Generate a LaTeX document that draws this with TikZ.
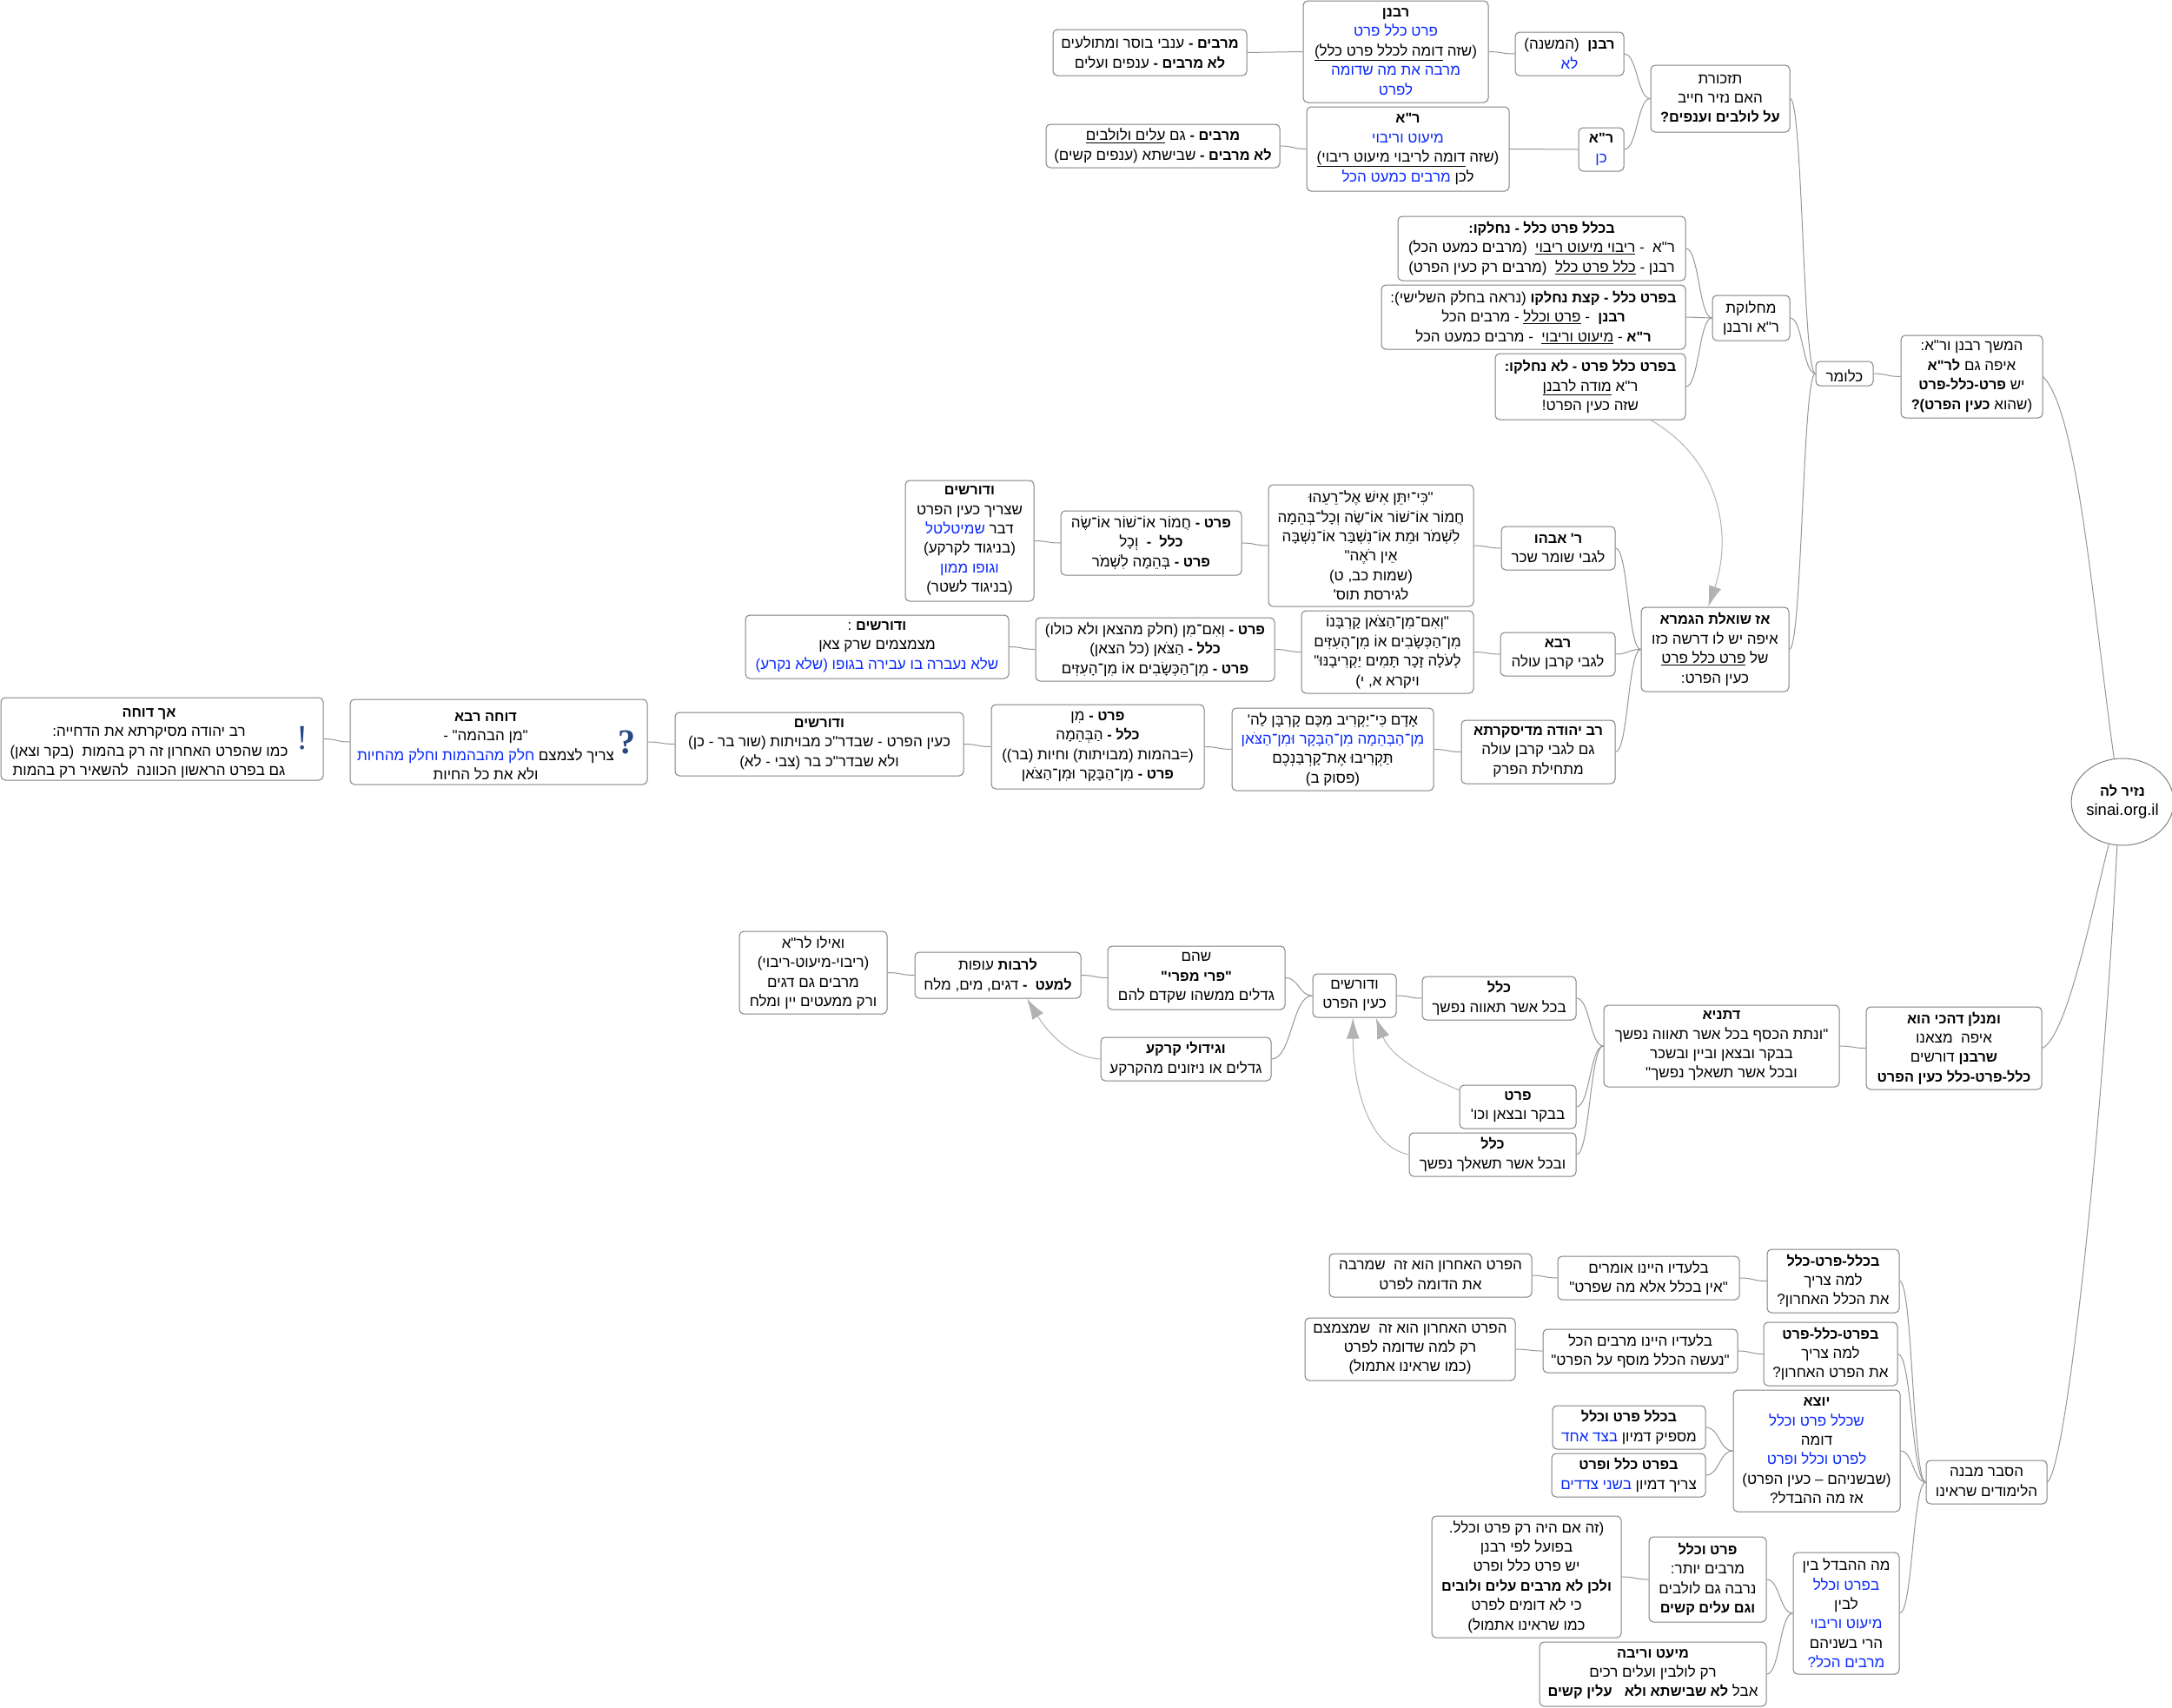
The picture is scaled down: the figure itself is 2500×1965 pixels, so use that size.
\documentclass[tikz,border=0pt]{standalone}
\usepackage{fontspec}
\usetikzlibrary{arrows.meta,calc,shapes.geometric}
\TeXXeTstate=1
\newfontfamily\hebfont[Script=Hebrew,BoldFeatures={Scale=0.96}]{Liberation Sans}
\definecolor{edgegray}{RGB}{128,128,128}
\definecolor{linkgray}{RGB}{150,150,150}
\definecolor{tipgray}{RGB}{178,178,178}
\definecolor{hebblue}{RGB}{10,40,250}
\definecolor{marknavy}{RGB}{40,70,130}
\newcommand{\heb}[1]{\beginR#1\endR}
\newcommand{\blu}[1]{\textcolor{hebblue}{\beginR#1\endR}}
\newcommand{\unl}[1]{$\underline{\hbox{\beginR#1\endR}}$}
\tikzset{
  box/.style 2 args={draw=edgegray,line width=1pt,rounded corners=5pt,inner sep=0pt,
    minimum width=#1pt,minimum height=#2pt,align=center,text=black,
    font=\hebfont\fontsize{17}{22.4}\selectfont,
    execute at begin node={\rule{0pt}{20pt}}},
  link/.style={draw=linkgray,line width=1pt,
    to path={let \p1=(\tikztostart),\p2=(\tikztotarget) in
      .. controls ({0.5*\x1+0.5*\x2},\y1) and ({0.5*\x1+0.5*\x2},\y2) .. (\tikztotarget)}},
  jump/.style={draw=tipgray,line width=1pt,-{Latex[length=24pt,width=15pt,color=tipgray]}},
  iconmark/.style={text=marknavy,inner sep=0pt,font=\fontspec{Liberation Serif}\fontsize{40}{40}\selectfont}
}
\begin{document}
\begin{tikzpicture}[x=1pt,y=-1pt]
  \useasboundingbox (0,0) rectangle (2500,1965);

  \node [box={223}{53}] (merabimA) at (1323.5,60.5) {\heb{\textbf{מרבים -} ענבי בוסר ומתולעים}\\\heb{\textbf{לא מרבים -} ענפים ועלים}};
  \node [box={213}{117}] (rabananDet) at (1606.5,59.5) {\heb{\textbf{רבנן}}\\\blu{פרט כלל פרט}\\\heb{(שזה \unl{דומה לכלל פרט כלל)}}\\\blu{מרבה את מה שדומה}\\\blu{לפרט}};
  \node [box={125}{50}] (rabanan) at (1806.5,62) {\heb{\textbf{רבנן}~~(המשנה)}\\\blu{לא}};
  \node [box={160}{77}] (tizkoret) at (1980,113.5) {\heb{תזכורת}\\\heb{האם נזיר חייב}\\\heb{\textbf{על לולבים וענפים?}}};
  \node [box={269}{50}] (merabimB) at (1338.5,168) {\heb{\textbf{מרבים -} גם \unl{עלים ולולבים}}\\\heb{\textbf{לא מרבים -} שבישתא (ענפים קשים)}};
  \node [box={233}{97}] (raDet) at (1620.5,171.5) {\heb{\textbf{ר"א}}\\\blu{מיעוט וריבוי}\\\heb{(שזה \unl{דומה לריבוי מיעוט ריבוי)}}\\\blu{מרבים כמעט הכל} \heb{לכן}};
  \node [box={52}{50}] (ra) at (1843,172) {\heb{\textbf{ר"א}}\\\blu{כן}};

  \node [box={331}{74}] (bichlal) at (1774.5,286) {\heb{\textbf{בכלל פרט כלל - נחלקו:}}\\\heb{ר"א~~- \unl{ריבוי מיעוט ריבוי}~~(מרבים כמעט הכל)}\\\heb{רבנן - \unl{כלל פרט כלל}~~(מרבים רק כעין הפרט)}};
  \node [box={350}{74}] (bifrat) at (1765,365) {\heb{\textbf{בפרט כלל - קצת נחלקו} (נראה בחלק השלישי):}\\\heb{\textbf{רבנן}~~- \unl{פרט וכלל} - מרבים הכל}\\\heb{\textbf{ר"א} - \unl{מיעוט וריבוי}~~- מרבים כמעט הכל}};
  \node [box={219}{76}] (biprat) at (1830.5,445) {\heb{\textbf{בפרט כלל פרט - לא נחלקו:}}\\\heb{ר"א \unl{מודה לרבנן}}\\\heb{שזה כעין הפרט!}};
  \node [box={89}{52}] (machloket) at (2015.5,366) {\heb{מחלוקת}\\\heb{ר"א ורבנן}};
  \node [box={66}{28}] (klomar) at (2123,430) {\heb{כלומר}};
  \node [box={163}{95}] (hemshech) at (2269.5,433.5) {\heb{המשך רבנן ור"א:}\\\heb{איפה גם \textbf{לר"א}}\\\heb{יש \textbf{פרט-כלל-פרט}}\\\heb{(שהוא \textbf{כעין הפרט)?}}};
  \node [box={170}{97}] (az) at (1974,747.5) {\heb{\textbf{אז שואלת הגמרא}}\\\heb{איפה יש לו דרשה כזו}\\\heb{של \unl{פרט כלל פרט}}\\\heb{כעין הפרט:}};

  \node [box={148}{139}] (doreshimA) at (1116,622.5) {\heb{\textbf{ודורשים}}\\\heb{שצריך כעין הפרט}\\\blu{שמיטלטל} \heb{דבר}\\\heb{(בניגוד לקרקע)}\\\blu{וגופו ממון}\\\heb{(בניגוד לשטר)}};
  \node [box={208}{74}] (pratHamor) at (1325,625) {\heb{\textbf{פרט -} חֲמוֹר אוֹ־שׁוֹר אוֹ־שֶׂה}\\\heb{\textbf{כלל~~-}~~וְכָל}\\\heb{\textbf{פרט -} בְּהֵמָה לִשְׁמֹר}};
  \node [box={236}{140}] (kiYiten) at (1578,628) {\heb{"כִּי־יִתֵּן אִישׁ אֶל־רֵעֵהוּ}\\\heb{חֲמוֹר אוֹ־שׁוֹר אוֹ־שֶׂה וְכָל־בְּהֵמָה}\\\heb{לִשְׁמֹר וּמֵת אוֹ־נִשְׁבַּר אוֹ־נִשְׁבָּה}\\\heb{אֵין רֹאֶה"}\\\heb{(שמות כב, ט)}\\\heb{לגירסת תוס'}};
  \node [box={131}{50}] (abahu) at (1793.5,631) {\heb{\textbf{ר' אבהו}}\\\heb{לגבי שומר שכר}};

  \node [box={303}{73}] (doreshimB) at (1009.5,744.5) {\heb{\textbf{ודורשים} :}\\\heb{מצמצמים שרק צאן}\\\blu{שלא נעברה בו עבירה בגופו (שלא נקרע)}};
  \node [box={275}{73}] (pratIm) at (1329.5,747.5) {\heb{\textbf{פרט -} וְאִם־מִן (חלק מהצאן ולא כולו)}\\\heb{\textbf{כלל -} הַצֹּאן (כל הצאן)}\\\heb{\textbf{פרט -} מִן־הַכְּשָׂבִים אוֹ מִן־הָעִזִּים}};
  \node [box={198}{95}] (imMin) at (1597,750.5) {\heb{"וְאִם־מִן־הַצֹּאן קָרְבָּנוֹ}\\\heb{מִן־הַכְּשָׂבִים אוֹ מִן־הָעִזִּים}\\\heb{לְעֹלָה זָכָר תָּמִים יַקְרִיבֶנּוּ"}\\\heb{ויקרא א, י)}};
  \node [box={132}{50}] (rava) at (1793,753) {\heb{\textbf{רבא}}\\\heb{לגבי קרבן עולה}};

  \node [box={371}{95}] (achDoche) at (186.5,850.5) {\parbox[c]{335pt}{\centering\rule{0pt}{20pt}\heb{\textbf{אך דוחה}}\\\heb{רב יהודה מסיקרתא את הדחייה:}\\\heb{כמו שהפרט האחרון זה רק בהמות~~(בקר וצאן)}\\\heb{גם בפרט הראשון הכוונה~~להשאיר רק בהמות}}\hspace{30pt}};
  \node [iconmark] (markA) at (348,850) {!};
  \node [box={342}{98}] (docheRava) at (574,854) {\parbox[c]{305pt}{\centering\rule{0pt}{20pt}\heb{\textbf{דוחה רבא}}\\\heb{"מן הבהמה" -}\\\blu{חלק מהבהמות וחלק מהחיות} \heb{צריך לצמצם}\\\heb{ולא את כל החיות}}\hspace{30pt}};
  \node [iconmark,font=\fontspec{Liberation Serif}\bfseries\fontsize{40}{40}\selectfont] (markB) at (721,855) {?};
  \node [box={332}{73}] (doreshimC) at (943,856.5) {\heb{\textbf{ודורשים}}\\\heb{כעין הפרט - שבדר"כ מבויתות (שור בר - כן)}\\\heb{ולא שבדר"כ בר (צבי - לא)}};
  \node [box={245}{97}] (pratMin) at (1263.5,859.5) {\heb{\textbf{פרט -} מִן}\\\heb{\textbf{כלל -} הַבְּהֵמָה}\\\heb{(=בהמות (מבויתות) וחיות (בר))}\\\heb{\textbf{פרט -} מִן־הַבָּקָר וּמִן־הַצֹּאן}};
  \node [box={232}{95}] (adam) at (1534,862.5) {\heb{אָדָם כִּי־יַקְרִיב מִכֶּם קָרְבָּן לַה'}\\\blu{מִן־הַבְּהֵמָה מִן־הַבָּקָר וּמִן־הַצֹּאן}\\\heb{תַּקְרִיבוּ אֶת־קָרְבַּנְכֶם}\\\heb{(פסוק ב)}};
  \node [box={177}{73}] (ravYehuda) at (1770.5,865.5) {\heb{\textbf{רב יהודה מדיסקרתא}}\\\heb{גם לגבי קרבן עולה}\\\heb{מתחילת הפרק}};

  \node [ellipse,draw=edgegray,line width=1pt,inner sep=0pt,minimum width=112pt,minimum height=100pt,align=center,font=\hebfont\fontsize{17}{22.4}\selectfont,execute at begin node={\rule{0pt}{20pt}}] (root) at (2443,923) {\heb{\textbf{נזיר לה}}\\{\fontsize{18.5}{22.4}\selectfont sinai.org.il}};

  \node [box={170}{95}] (veilu) at (936,1119.5) {\heb{ואילו לר"א}\\\heb{(ריבוי-מיעוט-ריבוי)}\\\heb{מרבים גם דגים}\\\heb{ורק ממעטים יין ומלח}};
  \node [box={191}{53}] (lerabot) at (1148.5,1122.5) {\heb{\textbf{לרבות} עופות}\\\heb{\textbf{למעט~~-} דגים, מים, מלח}};
  \node [box={204}{73}] (shehem) at (1377,1125.5) {\heb{שהם}\\\heb{\textbf{"פרי מפרי"}}\\\heb{גדלים ממשהו שקדם להם}};
  \node [box={196}{50}] (gidulei) at (1365,1219) {\heb{\textbf{וגידולי קרקע}}\\\heb{גדלים או ניזונים מהקרקע}};
  \node [box={96}{50}] (vedorshim) at (1559,1146) {\heb{ודורשים}\\\heb{כעין הפרט}};
  \node [box={177}{50}] (kelalA) at (1725.5,1149) {\heb{\textbf{כלל}}\\\heb{בכל אשר תאווה נפשך}};
  \node [box={134}{50}] (pratP) at (1747,1274) {\heb{\textbf{פרט}}\\\heb{בבקר ובצאן וכו'}};
  \node [box={192}{50}] (kelalB) at (1718,1329) {\heb{\textbf{כלל}}\\\heb{ובכל אשר תשאלך נפשך}};
  \node [box={271}{94}] (dtanya) at (1981.5,1204) {\heb{\textbf{דתניא}}\\\heb{"ונתת הכסף בכל אשר תאווה נפשך}\\\heb{בבקר ובצאן וביין ובשכר}\\\heb{ובכל אשר תשאלך נפשך"}};
  \node [box={202}{95}] (umnalan) at (2249,1206.5) {\heb{\textbf{ומנלן דהכי הוא}}\\\heb{איפה~~מצאנו}\\\heb{\textbf{שרבנן} דורשים}\\\heb{\textbf{כלל-פרט-כלל כעין הפרט}}};

  \node [box={233}{50}] (hapA) at (1646.5,1468) {\heb{הפרט האחרון הוא זה~~שמרבה}\\\heb{את הדומה לפרט}};
  \node [box={209}{50}] (bilA) at (1897.5,1471) {\heb{בלעדיו היינו אומרים}\\\heb{"אין בכלל אלא מה שפרט"}};
  \node [box={152}{73}] (bchlal) at (2110,1474.5) {\heb{\textbf{בכלל-פרט-כלל}}\\\heb{למה צריך}\\\heb{את הכלל האחרון?}};
  \node [box={242}{72}] (hapB) at (1623,1553) {\heb{הפרט האחרון הוא זה~~שמצמצם}\\\heb{רק למה שדומה לפרט}\\\heb{(כמו שראינו אתמול)}};
  \node [box={224}{50}] (bilB) at (1888,1555) {\heb{בלעדיו היינו מרבים הכל}\\\heb{"נעשה הכלל מוסף על הפרט"}};
  \node [box={154}{73}] (bprat) at (2107,1558.5) {\heb{\textbf{בפרט-כלל-פרט}}\\\heb{למה צריך}\\\heb{את הפרט האחרון?}};
  \node [box={192}{140}] (yotzei) at (2091,1670) {\heb{\textbf{יוצא}}\\\blu{שכלל פרט וכלל}\\\heb{דומה}\\\blu{לפרט וכלל ופרט}\\\heb{(שבשניהם – כעין הפרט)}\\\heb{אז מה ההבדל?}};
  \node [box={176}{50}] (bichlalU) at (1875,1643) {\heb{\textbf{בכלל פרט וכלל}}\\\blu{בצד אחד} \heb{מספיק דמיון}};
  \node [box={177}{50}] (bifratU) at (1874.5,1698) {\heb{\textbf{בפרט כלל ופרט}}\\\blu{בשני צדדים} \heb{צריך דמיון}};
  \node [box={139}{50}] (hesber) at (2286.5,1706) {\heb{הסבר מבנה}\\\heb{הלימודים שראינו}};
  \node [box={218}{140}] (zeh) at (1757,1815) {\heb{(זה אם היה רק פרט וכלל.}\\\heb{בפועל לפי רבנן}\\\heb{יש פרט כלל ופרט}\\\heb{\textbf{ולכן לא מרבים עלים ולובים}}\\\heb{כי לא דומים לפרט}\\\heb{כמו שראינו אתמול)}};
  \node [box={135}{98}] (pratUkelal) at (1965.5,1818) {\heb{\textbf{פרט וכלל}}\\\heb{מרבים יותר:}\\\heb{נרבה גם לולבים}\\\heb{\textbf{וגם עלים קשים}}};
  \node [box={261}{74}] (miut) at (1902.5,1927) {\heb{\textbf{מיעט וריבה}}\\\heb{רק לולבין ועלים רכים}\\\heb{אבל \textbf{לא שבישתא ולא}~~~\textbf{עלין קשים}}};
  \node [box={122}{140}] (hevdel) at (2125,1857) {\heb{מה ההבדל בין}\\\blu{בפרט וכלל}\\\heb{לבין}\\\blu{מיעוט וריבוי}\\\heb{הרי בשניהם}\\\blu{מרבים הכל?}};

  \draw [link] (merabimA.east) to (rabananDet.west);
  \draw [link] (rabananDet.east) to (rabanan.west);
  \draw [link] (rabanan.east) to (tizkoret.west);
  \draw [link] (merabimB.east) to (raDet.west);
  \draw [link] (raDet.east) to (ra.west);
  \draw [link] (ra.east) to (tizkoret.west);
  \draw [link] (bichlal.east) to (machloket.west);
  \draw [link] (bifrat.east) to (machloket.west);
  \draw [link] (biprat.east) to (machloket.west);
  \draw [link] (tizkoret.east) to (klomar.west);
  \draw [link] (machloket.east) to (klomar.west);
  \draw [link] (az.east) to (klomar.west);
  \draw [link] (klomar.east) to (hemshech.west);
  \draw [link] (doreshimA.east) to (pratHamor.west);
  \draw [link] (pratHamor.east) to (kiYiten.west);
  \draw [link] (kiYiten.east) to (abahu.west);
  \draw [link] (abahu.east) to (az.west);
  \draw [link] (doreshimB.east) to (pratIm.west);
  \draw [link] (pratIm.east) to (imMin.west);
  \draw [link] (imMin.east) to (rava.west);
  \draw [link] (rava.east) to (az.west);
  \draw [link] (achDoche.east) to (docheRava.west);
  \draw [link] (docheRava.east) to (doreshimC.west);
  \draw [link] (doreshimC.east) to (pratMin.west);
  \draw [link] (pratMin.east) to (adam.west);
  \draw [link] (adam.east) to (ravYehuda.west);
  \draw [link] (ravYehuda.east) to (az.west);
  \draw [link] (veilu.east) to (lerabot.west);
  \draw [link] (lerabot.east) to (shehem.west);
  \draw [link] (shehem.east) to (vedorshim.west);
  \draw [link] (gidulei.east) to (vedorshim.west);
  \draw [link] (vedorshim.east) to (kelalA.west);
  \draw [link] (kelalA.east) to (dtanya.west);
  \draw [link] (pratP.east) to (dtanya.west);
  \draw [link] (kelalB.east) to (dtanya.west);
  \draw [link] (dtanya.east) to (umnalan.west);
  \draw [link] (hapA.east) to (bilA.west);
  \draw [link] (bilA.east) to (bchlal.west);
  \draw [link] (hapB.east) to (bilB.west);
  \draw [link] (bilB.east) to (bprat.west);
  \draw [link] (bichlalU.east) to (yotzei.west);
  \draw [link] (bifratU.east) to (yotzei.west);
  \draw [link] (zeh.east) to (pratUkelal.west);
  \draw [link] (pratUkelal.east) to (hevdel.west);
  \draw [link] (miut.east) to (hevdel.west);
  \draw [link] (bchlal.east) to (hesber.west);
  \draw [link] (bprat.east) to (hesber.west);
  \draw [link] (yotzei.east) to (hesber.west);
  \draw [link] (hevdel.east) to (hesber.west);

  \draw [draw=linkgray,line width=1pt] (hemshech.east) .. controls +(40,40) and +(-25,-180) .. (root.101);
  \draw [draw=linkgray,line width=1pt] (umnalan.east) .. controls +(28,-12) and +(-20,80) .. (root.252);
  \draw [draw=linkgray,line width=1pt] (hesber.east) .. controls +(22,-16) and +(-17,327) .. (root.263);

  \draw [jump] (biprat.-29) .. controls +(80,46) and +(28,-83) .. (az.99);
  \draw [jump] (gidulei.west) .. controls +(-35,-2) and +(25,40) .. (lerabot.-39);
  \draw [jump] (pratP.164) .. controls +(-50,-20) and +(15,40) .. (vedorshim.-46);
  \draw [jump] (kelalB.west) .. controls +(-50,-10) and +(0,70) .. (vedorshim.-94);
\end{tikzpicture}
\end{document}
